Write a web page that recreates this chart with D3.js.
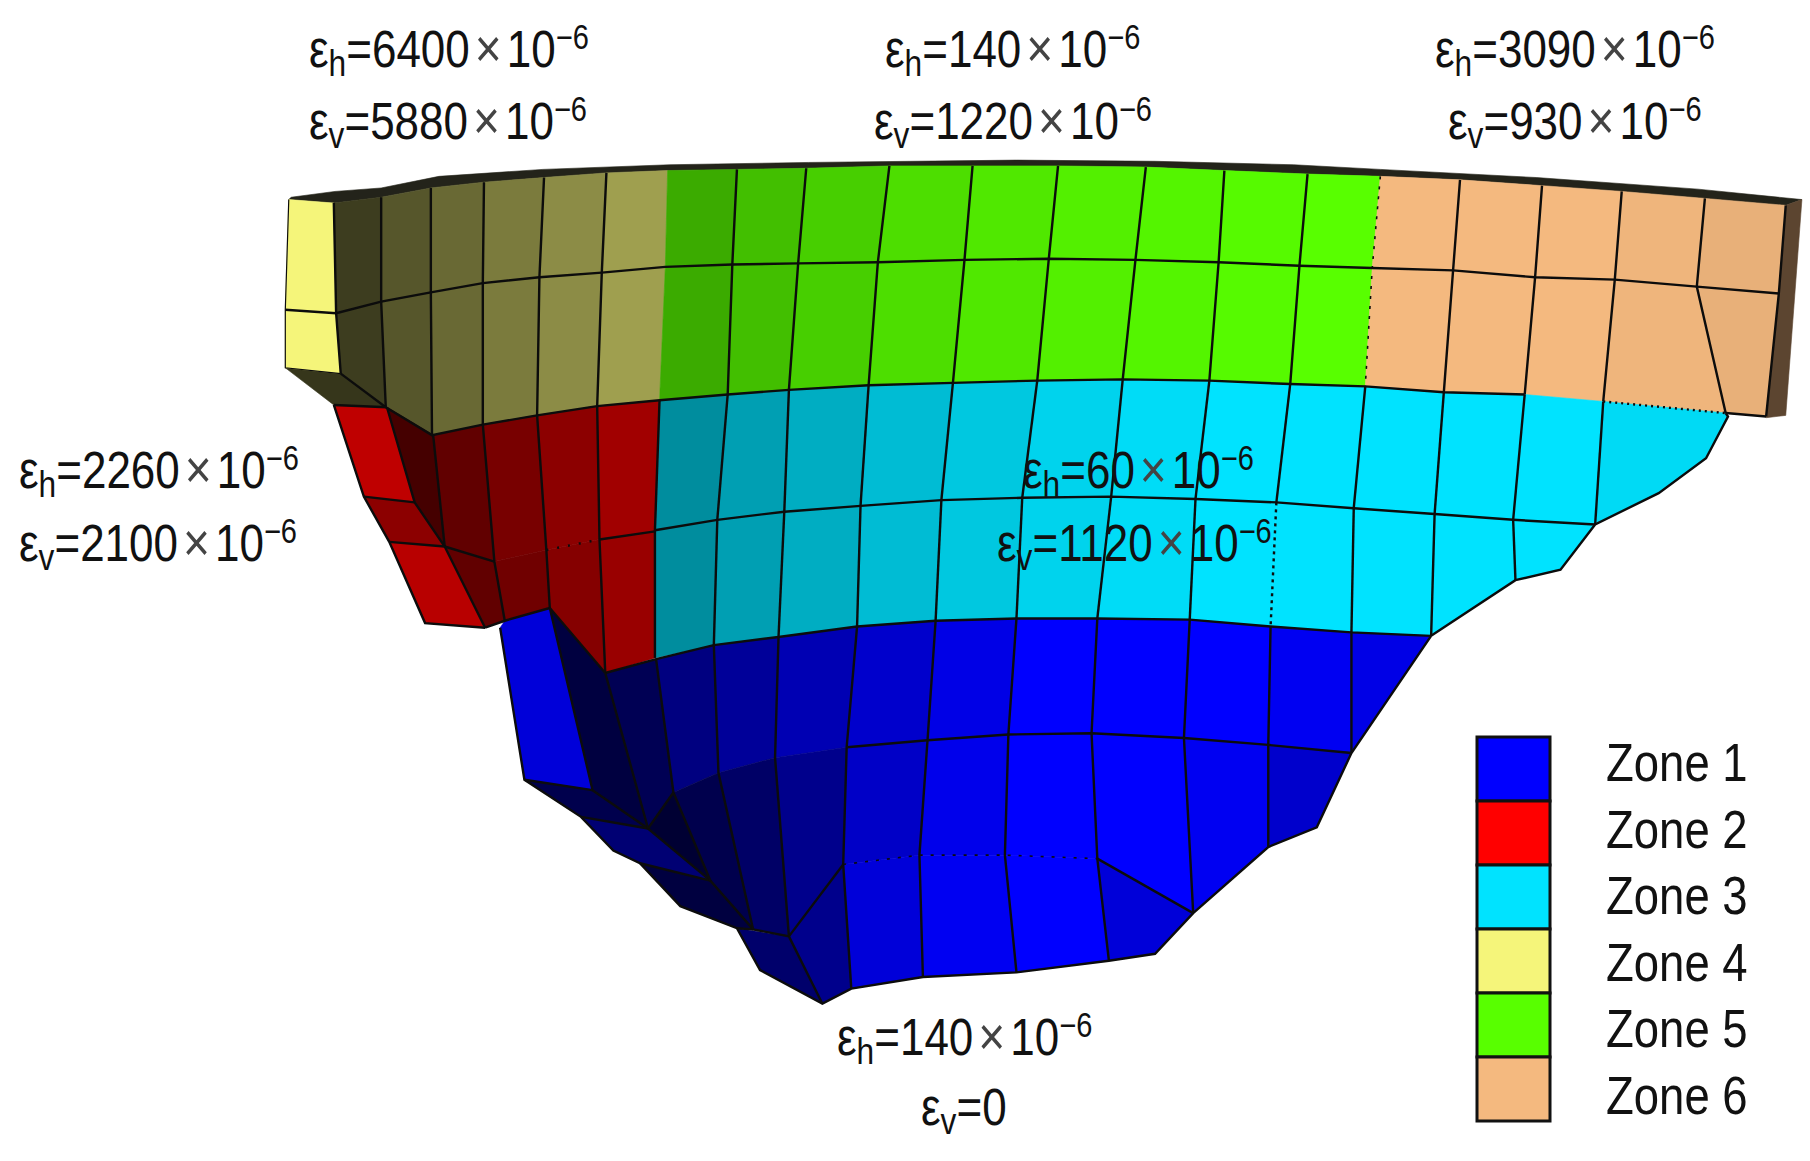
<!DOCTYPE html>
<html>
<head>
<meta charset="utf-8">
<script src="https://cdnjs.cloudflare.com/ajax/libs/d3/7.8.5/d3.min.js"></script>
<style>
  body { margin: 0; background: #fff; }
  text { font-family: "Liberation Sans", Arial, sans-serif; fill: #111; }
</style>
</head>
<body>
<script>
// zones and strain readings
const zoneNames = ["Zone 1", "Zone 2", "Zone 3", "Zone 4", "Zone 5", "Zone 6"];
const zoneColors = ["#0000ff", "#ff0000", "#00e3ff", "#f5f57a", "#58ff00", "#f4b97f"];
const strainH = [6400, 140, 3090, 2260, 60, 140];
const strainV = [5880, 1220, 930, 2100, 1120, 0];

// mesh nodes, upper layer (zones 4, 5, 6)
const upperEdge = [[252,170],[290,165],[330,162],[380,152],[470,146],[580,142],[700,140],[880,138],[1000,139],[1120,142],[1195,146],[1330,153],[1470,163],[1560,172]];
const upperTop = [[250,172],[289,175],[330,170],[373,162],[419,157],[471,153],[525,149],[578,147],[638,146],[698,145],[770,143],[842,143],[916,143],[992,144],[1060,147],[1132,150],[1195,152],[1264,155],[1335,160],[1404,165],[1476,171],[1546,177]];
const upperMid = [[247,267],[291,270],[330,260],[373,252],[418,244],[467,239],[521,235],[576,230],[634,228],[691,227],[760,226],[835,224],[908,223],[983,224],[1055,226],[1125,229],[1188,231],[1258,233],[1329,239],[1398,241],[1469,247],[1540,253]];
const upperBot = [[247,317],[295,322],[334,351],[374,375],[418,366],[465,358],[517,350],[571,345],[630,340],[683,336],[752,332],[825,330],[898,328],[972,327],[1047,328],[1117,331],[1182,333],[1250,338],[1320,340],[1388,346],[1494,356],[1529,359]];
const upperZone = [3,3,3,3,3,3,3,4,4,4,4,4,4,4,4,4,5,5,5,5,5];
const upperShade = [1,.25,.35,.43,.5,.57,.65,.67,.75,.81,.87,.91,.94,.96,.98,1,1,1,1,.98,.95];
const upperSide = [[1546,177],[1560,172],[1546,358],[1529,360]];
const upperUnder = [[247,317],[295,322],[334,351],[289,349]];

// middle layer (zone 3)
const midTop = upperBot.slice(7, 21);
const midMid = [[567,457],[621,448],[679,441],[745,436],[815,431],[885,429],[962,428],[1035,430],[1105,433],[1172,438],[1242,443],[1310,448],[1381,452]];
const midBot = [[567,567],[618,556],[674,549],[742,540],[810,535],[880,533],[950,533],[1030,534],[1100,540],[1170,545],[1239,548],[1312,500],[1351,491]];
const midShade = [.62,.7,.76,.83,.88,.93,.97,1,1,1,1,1];
const midTip = [[1388,346],[1494,356],[1496,359],[1477,395],[1436,425],[1381,452]];

// zone 2 faces
const redCells = [
  [[289,349],[335,351],[359,433],[315,428]],
  [[315,428],[359,433],[385,471],[337,467]],
  [[337,467],[385,471],[420,541],[368,537]],
  [[335,351],[375,375],[385,471],[359,433]],
  [[375,375],[418,366],[428,484],[385,471]],
  [[418,366],[465,358],[473,474],[428,484]],
  [[465,358],[517,350],[519,465],[473,474]],
  [[517,350],[571,345],[567,458],[519,465]],
  [[385,471],[428,484],[437,535],[420,541]],
  [[428,484],[473,474],[476,524],[437,535]],
  [[473,474],[519,465],[524,580],[476,524]],
  [[519,465],[567,458],[567,567],[524,580]]
];
const redShade = [.75,.55,.72,.27,.38,.47,.55,.63,.38,.44,.52,.6];
const redLines = [
  [[289,349],[315,428],[337,467],[368,537],[420,541]],
  [[335,351],[359,433],[385,471],[420,541]],
  [[375,375],[385,471]],
  [[418,366],[428,484],[437,535]],
  [[465,358],[473,474],[476,524]],
  [[517,350],[519,465],[524,580]],
  [[315,428],[359,433]],
  [[337,467],[385,471],[428,484]],
  [[519,465],[567,458]],
  [[420,541],[437,535],[476,524]],
  [[476,524],[524,580]],
  [[289,349],[335,351]]
];

// zone 1 faces
const blueRow4 = [[524,580],[568,568],[618,556],[674,549],[742,540],[810,535],[880,533],[950,533],[1030,534],[1100,540],[1170,545],[1239,548]];
const blueRow5 = [[561,714],[583,683],[622,666],[671,653],[733,644],[803,638],[873,633],[945,632],[1025,636],[1098,642],[1170,649]];
const blueRow4Shade = [.33,.5,.6,.7,.8,.9,1,1,1,.95];
const blueCells = [
  [[433,541],[437,535],[476,524],[513,681],[454,672]],
  [[476,524],[524,580],[561,714],[513,681]],
  [[1170,545],[1239,548],[1170,649]],
  [[561,714],[583,683],[615,759]],
  [[583,683],[622,666],[652,801],[615,759]],
  [[622,666],[671,653],[683,807],[652,801]],
  [[671,653],[733,644],[730,745],[683,807]],
  [[733,644],[803,638],[796,737],[730,745]],
  [[803,638],[873,633],[870,737],[796,737]],
  [[873,633],[945,632],[950,740],[870,737]],
  [[945,632],[1025,636],[1033,787],[950,740]],
  [[1025,636],[1098,642],[1098,730],[1033,787]],
  [[1098,642],[1170,649],[1140,713],[1098,730]],
  [[683,807],[730,745],[737,852],[712,865]],
  [[730,745],[796,737],[799,842],[737,852]],
  [[796,737],[870,737],[880,838],[799,842]],
  [[870,737],[950,740],[960,828],[880,838]],
  [[950,740],[1033,787],[1000,822],[960,828]],
  [[454,672],[513,681],[561,714],[503,704]],
  [[503,704],[561,714],[615,759],[554,744],[531,733]],
  [[554,744],[615,759],[652,801],[638,800],[589,781]],
  [[638,800],[683,807],[712,865],[658,836]]
];
const blueShade = [.85,.25,.9,.2,.3,.4,.55,.78,.92,1,1,.95,.8,.55,.85,.95,1,.85,.3,.45,.25,.42];
const blueLines = [
  [[433,541],[454,672],[503,704],[531,733],[554,744],[589,781],[638,800],[658,836],[712,865],[737,852],[799,842],[880,838],[960,828],[1000,822],[1033,787],[1098,730],[1140,713],[1170,649],[1239,548]],
  [[476,524],[513,681],[561,714],[615,759],[652,801],[683,807],[712,865]],
  [[454,672],[513,681]],
  [[503,704],[561,714]],
  [[554,744],[615,759]],
  [[638,800],[652,801]],
  [[524,580],[561,714]],
  [[568,568],[583,683],[615,759]],
  [[618,556],[622,666],[652,801]],
  [[674,549],[671,653],[683,807]],
  [[742,540],[733,644],[730,745],[737,852]],
  [[810,535],[803,638],[796,737],[799,842]],
  [[880,533],[873,633],[870,737],[880,838]],
  [[950,533],[945,632],[950,740],[960,828]],
  [[1030,534],[1025,636],[1033,787]],
  [[1100,540],[1098,642],[1098,730]],
  [[1170,545],[1170,649]],
  [[733,644],[803,638],[873,633],[945,632],[1025,636],[1098,642],[1170,649]],
  [[683,807],[730,745]],
  [[950,740],[1033,787]],
  [[583,683],[561,714]]
];
const blueDotted = [[[730,745],[796,737],[870,737],[950,740]]];

const width = 1810, height = 1161;
const svg = d3.select("body").append("svg").attr("width", width).attr("height", height);

// picture units to page pixels
const x = d3.scaleLinear().domain([0, 1567]).range([0, width]);
const y = d3.scaleLinear().domain([0, 1000.6]).range([0, height]);
const line = d3.line().x(d => x(d[0])).y(d => y(d[1]));
const shade = (zone, s) => d3.interpolateRgb("#000", zoneColors[zone])(s);

const faces = svg.append("g");
const lines = svg.append("g").attr("fill", "none").attr("stroke", "#0c0c0c").attr("stroke-width", 2.4);

function face(pts, color) {
  faces.append("path").attr("d", line(pts) + "Z").attr("fill", color).attr("stroke", color).attr("stroke-width", 0.6);
}
function stroke(pts, dash, w) {
  const p = lines.append("path").attr("d", line(pts));
  if (dash) p.attr("stroke-dasharray", dash);
  if (w) p.attr("stroke-width", w);
}

// dark top band and sides go first
face(upperEdge.concat(upperTop.slice().reverse()), "#23231a");
face(upperSide, "#5c4530");
face(upperUnder, shade(3, .22));

// upper layer, two rows of cells per column
upperZone.forEach((z, i) => {
  const c = shade(z, upperShade[i]);
  face([upperTop[i], upperTop[i + 1], upperMid[i + 1], upperMid[i]], c);
  face([upperMid[i], upperMid[i + 1], upperBot[i + 1], upperBot[i]], c);
});

// middle layer
midShade.forEach((s, i) => {
  const c = shade(2, s);
  face([midTop[i], midTop[i + 1], midMid[i + 1], midMid[i]], c);
  face([midMid[i], midMid[i + 1], midBot[i + 1], midBot[i]], c);
});
face(midTip, shade(2, .96));

redCells.forEach((c, i) => face(c, shade(1, redShade[i])));
blueRow4Shade.forEach((s, i) => face([blueRow4[i], blueRow4[i + 1], blueRow5[i + 1], blueRow5[i]], shade(0, s)));
blueCells.forEach((c, i) => face(c, shade(0, blueShade[i])));

// mesh lines
stroke(upperMid);
stroke(upperBot.slice(1, 3));
stroke(upperBot.slice(2, 19));
stroke(upperBot.slice(19, 21), "2 4");
stroke(upperBot.slice(20, 22));
stroke([upperTop[0], upperMid[0], upperBot[0], upperBot[1]], null, 1.2);
upperTop.forEach((p, i) => {
  if (i === 0 || i === 7) return;
  if (i === 16) { stroke([p, upperMid[i], upperBot[i]], "3 7", 1.6); return; }
  stroke([p, upperMid[i], upperBot[i]]);
});
stroke(midMid);
midMid.forEach((p, i) => {
  stroke([midTop[i], p]);
  if (i === 8) stroke([p, midBot[i]], "3 4");
  else if (i < 12) stroke([p, midBot[i]]);
});
stroke([midTip[1], midTip[2], midTip[3], midTip[4], midTip[5], midBot[12], midBot[11], midBot[10]]);
stroke(blueRow4);
redLines.forEach(l => stroke(l));
stroke([[473,474],[519,465]], "2 9");
blueLines.forEach(l => stroke(l));
blueDotted.forEach(l => stroke(l, "3 8", 1.6));

// strain labels, each line in its own stretched text block
const labelLeft = [309, 885, 1435, 19, 1023, 837];
const labelLeftV = [309, 874, 1448, 19, 997, 921];
const labelBaseH = [67, 67, 67, 488, 488, 1055];
const labelBaseV = [139, 139, 139, 561, 561, 1125];
const stretch = 1.18, fs = 44;

function strain(px, py, sub, value) {
  const t = svg.append("text").attr("transform", `translate(${px},${py}) scale(1,${stretch})`).attr("font-size", fs);
  t.append("tspan").text("ε");
  t.append("tspan").attr("font-size", fs * 0.72).attr("dy", 8).text(sub);
  t.append("tspan").attr("dy", -8).text(value === 0 ? "=0" : "=" + value);
  if (value !== 0) {
    t.append("tspan").attr("font-size", fs * 1.05).attr("dx", 5).attr("fill", "#444").text("×");
    t.append("tspan").attr("dx", 5).text("10");
    t.append("tspan").attr("font-size", fs * 0.66).attr("dy", -15).text("−6");
  }
}
strainH.forEach((v, i) => strain(labelLeft[i], labelBaseH[i], "h", v));
strainV.forEach((v, i) => strain(labelLeftV[i], labelBaseV[i], "v", v));

// legend
const legendY = d3.scaleBand().domain(zoneNames).range([737, 1121]);
const legendText = d3.scalePoint().domain(zoneNames).range([781, 1114]);
svg.append("g").selectAll("rect").data(zoneNames).join("rect")
  .attr("x", 1477).attr("width", 73)
  .attr("y", d => legendY(d)).attr("height", legendY.bandwidth())
  .attr("fill", (d, i) => zoneColors[i])
  .attr("stroke", "#111").attr("stroke-width", 3);
svg.append("g").selectAll("text").data(zoneNames).join("text")
  .attr("transform", d => `translate(1606,${legendText(d)}) scale(1,${stretch})`)
  .attr("font-size", 45.5)
  .text(d => d);
</script>
</body>
</html>
